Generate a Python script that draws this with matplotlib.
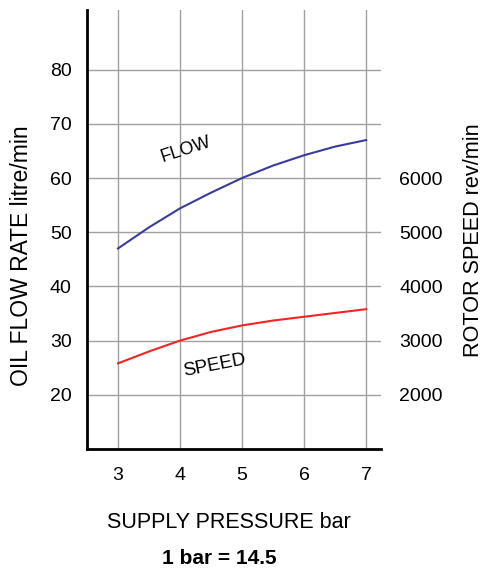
import matplotlib
matplotlib.use("Agg")
import matplotlib.pyplot as plt

plt.rcParams['font.family'] = ['Liberation Sans', 'DejaVu Sans']

pressure = [3, 3.5, 4, 4.5, 5, 5.5, 6, 6.5, 7]
flow = [47.0, 50.9, 54.4, 57.3, 60.0, 62.3, 64.2, 65.8, 67.0]
speed = [2580, 2800, 3000, 3160, 3280, 3370, 3440, 3510, 3580]

x_ticks = [3, 4, 5, 6, 7]
flow_ticks = [20, 30, 40, 50, 60, 70, 80]
speed_ticks = [2000, 3000, 4000, 5000, 6000]

W, H = 485, 569
fig = plt.figure(figsize=(W/100, H/100), dpi=100)
ax = fig.add_axes([87/W, 1-449/H, (381-87)/W, (449-10)/H])
ax.set_xlim(2.5, 7.24)
ax.set_ylim(10, 91)

ax2 = ax.twinx()
ax2.set_ylim(1000, 9100)

ax.plot(pressure, flow, color='#3b3b9c', lw=1.5, zorder=3)
ax2.plot(pressure, speed, color='#f22424', lw=1.5, zorder=3)

ax.set_xticks(x_ticks)
ax.set_yticks(flow_ticks)
ax2.set_yticks(speed_ticks)
ax.grid(True, color='#a0a0a0', lw=1.0)
ax.set_axisbelow(True)
ax.tick_params(axis='y', length=0, labelsize=14, pad=11)
ax.tick_params(axis='x', length=0, labelsize=14, pad=13)
ax2.tick_params(length=0, labelsize=14, pad=13)

for s in ['top', 'right']:
    ax.spines[s].set_visible(False)
for s in ['top', 'right', 'left', 'bottom']:
    ax2.spines[s].set_visible(False)
ax.spines['left'].set_linewidth(2)
ax.spines['bottom'].set_linewidth(2)

fig.text(22/W, 1-256/H, 'OIL FLOW RATE litre/min', fontsize=16.5, rotation=90,
         ha='center', va='center')
fig.text(474/W, 1-240/H, 'ROTOR SPEED rev/min', fontsize=15.6, rotation=90,
         ha='center', va='center')
fig.text(229/W, 1-523/H, 'SUPPLY PRESSURE bar', fontsize=15.5,
         ha='center', va='center')

ax.text(4.10, 65.2, 'FLOW', fontsize=13, rotation=18, ha='center', va='center')
ax.text(4.55, 25.4, 'SPEED', fontsize=13.5, rotation=11, ha='center', va='center')

fig.text(219/W, 1-558/H, '1 bar = 14.5', fontsize=15, fontweight='bold',
         ha='center', va='center')

fig.savefig('out.png', dpi=100)
